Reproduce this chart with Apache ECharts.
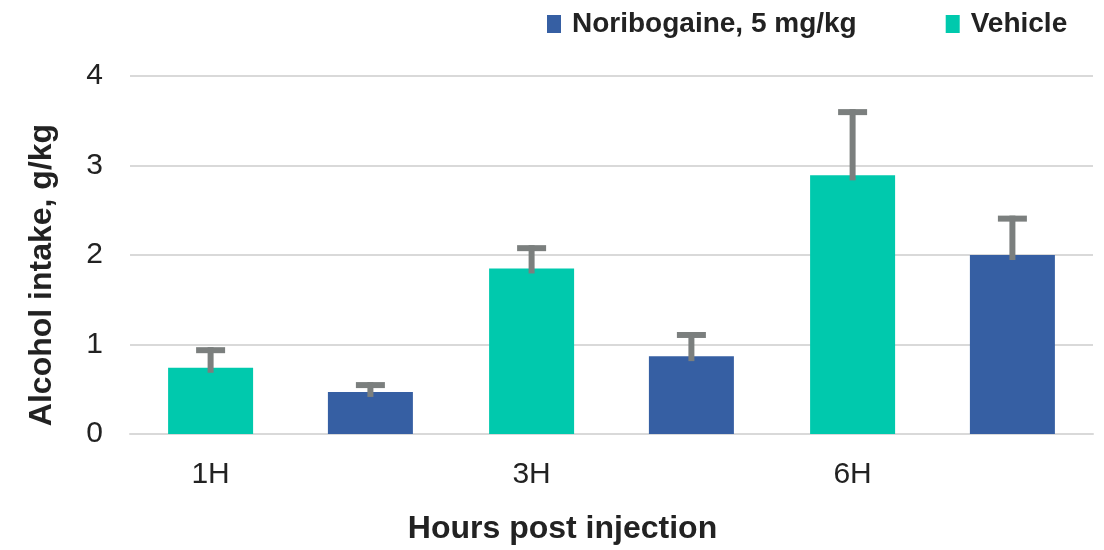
<!DOCTYPE html>
<html>
<head>
<meta charset="utf-8">
<script src="https://cdn.jsdelivr.net/npm/echarts@6/dist/echarts.min.js"></script>
<style>
  html, body { margin: 0; padding: 0; background: #fff; }
  #chart { width: 1104px; height: 550px; }
</style>
</head>
<body>
<div id="chart"></div>
<script>
// values
var timepoints = ['1H', '3H', '6H']
var vehicleMean = [0.74, 1.85, 2.89]
var vehicleErr = [0.23, 0.26, 0.74]
var noriMean = [0.47, 0.87, 2.0]
var noriErr = [0.11, 0.27, 0.44]
var yTicks = [0, 1, 2, 3, 4]

var FONT = '"Liberation Sans", Arial, sans-serif'
var barW = 85
var gapRatio = 0.88
var halfStep = (barW + barW * gapRatio) / 2 // px between category centre and bar centre

function errData(means, errs) {
  return means.map(function (m, i) { return [i, m, errs[i]] })
}

function errorRender(side) {
  return function (params, api) {
    var idx = api.value(0)
    var top = api.coord([idx, api.value(1) + api.value(2)])
    var base = api.coord([idx, api.value(1)])
    var x = top[0] + side * halfStep
    var style = { fill: '#7b7f7e' }
    return {
      type: 'group',
      children: [
        { type: 'rect', shape: { x: x - 3, y: top[1], width: 6, height: base[1] - top[1] + 5 }, style: style },
        { type: 'rect', shape: { x: x - 14.5, y: top[1], width: 29, height: 6 }, style: style }
      ]
    }
  }
}

var chart = echarts.init(document.getElementById('chart'))
chart.setOption({
  animation: false,
  textStyle: { fontFamily: FONT },
  legend: {
    data: ['Noribogaine, 5 mg/kg', 'Vehicle'],
    left: 542,
    top: 5,
    icon: 'rect',
    itemWidth: 14,
    itemHeight: 18,
    itemGap: 89,
    textStyle: { fontFamily: FONT, fontSize: 28, fontWeight: 'bold', color: '#222', padding: [0, 0, 0, 6] }
  },
  grid: { left: 130, right: 11, top: 76, bottom: 116 },
  xAxis: {
    type: 'category',
    data: timepoints,
    axisTick: { show: false },
    axisLine: { lineStyle: { color: '#d9d9d9', width: 2 } },
    axisLabel: { fontFamily: FONT, fontSize: 30, color: '#222', margin: 26, padding: [0, 2 * halfStep, 0, 0] },
    name: 'Hours post injection',
    nameLocation: 'middle',
    nameGap: 79,
    nameTextStyle: { fontFamily: FONT, fontSize: 32, fontWeight: 'bold', color: '#222', padding: [0, 98, 0, 0] }
  },
  yAxis: {
    type: 'value',
    min: yTicks[0],
    max: yTicks[yTicks.length - 1],
    interval: 1,
    axisLine: { show: false },
    axisTick: { show: false },
    splitLine: { lineStyle: { color: '#d9d9d9', width: 2 } },
    axisLabel: { fontFamily: FONT, fontSize: 30, color: '#222', margin: 27 },
    name: 'Alcohol intake, g/kg',
    nameLocation: 'middle',
    nameGap: 72,
    nameTextStyle: { fontFamily: FONT, fontSize: 32, fontWeight: 'bold', color: '#222', padding: [0, 40, 0, 0] }
  },
  series: [
    {
      name: 'Vehicle',
      type: 'bar',
      data: vehicleMean,
      barWidth: barW,
      barGap: (gapRatio * 100) + '%',
      itemStyle: { color: '#00c9ad' }
    },
    {
      name: 'Noribogaine, 5 mg/kg',
      type: 'bar',
      data: noriMean,
      barWidth: barW,
      itemStyle: { color: '#365fa3' }
    },
    {
      type: 'custom',
      renderItem: errorRender(-1),
      data: errData(vehicleMean, vehicleErr),
      encode: { x: 0, y: 1 },
      z: 5
    },
    {
      type: 'custom',
      renderItem: errorRender(1),
      data: errData(noriMean, noriErr),
      encode: { x: 0, y: 1 },
      z: 5
    }
  ]
})
</script>
</body>
</html>
